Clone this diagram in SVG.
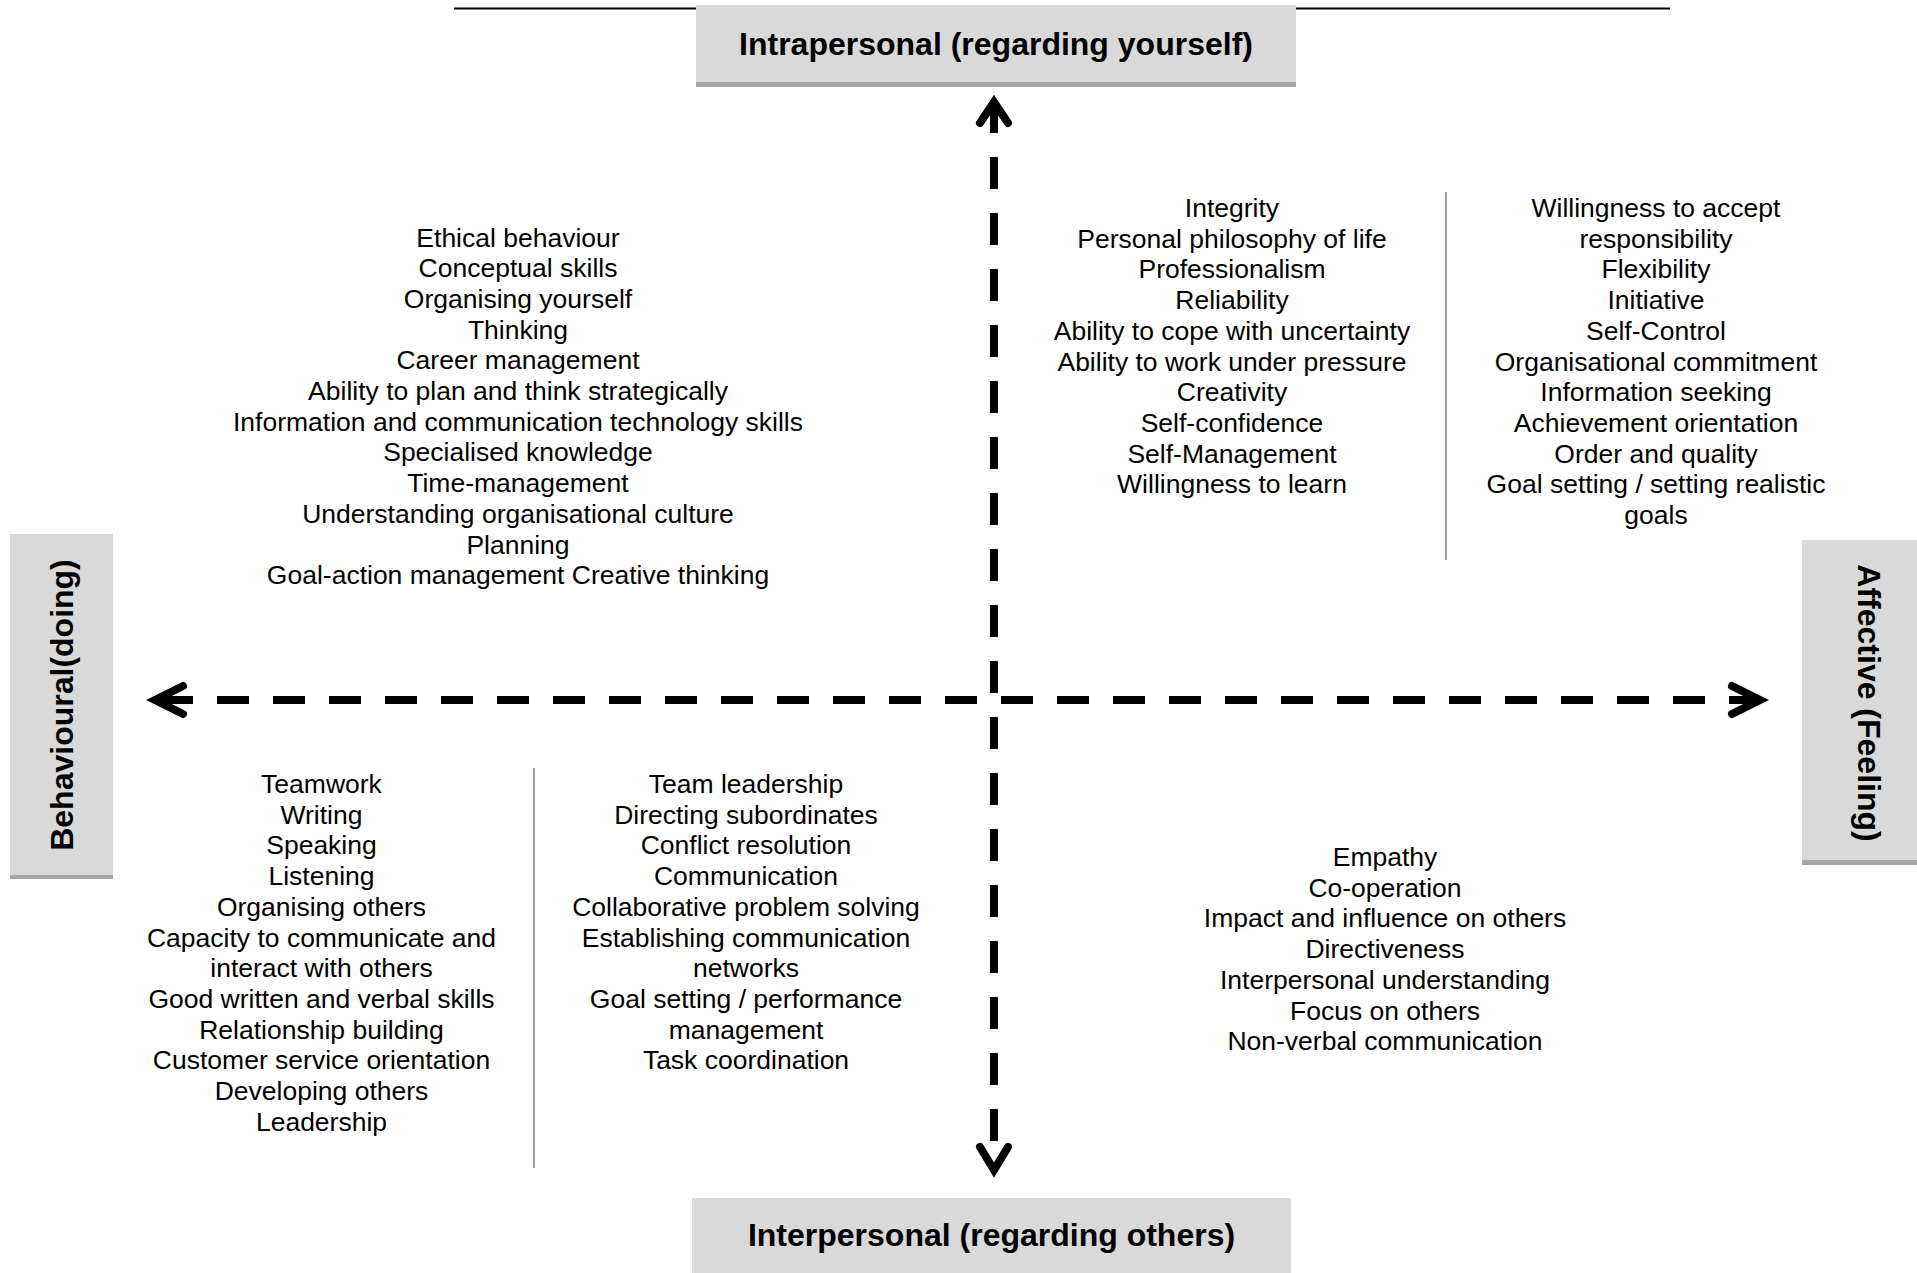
<svg xmlns="http://www.w3.org/2000/svg" width="1917" height="1273" viewBox="0 0 1917 1273">
<style>
.box{fill:#d9d9d9}
.shadow{fill:#a6a6a6}
.hdr{font-family:"Liberation Sans",Arial,sans-serif;font-size:32px;font-weight:bold;fill:#000;text-anchor:middle}
.item{font-family:"Liberation Sans",Arial,sans-serif;font-size:26.5px;fill:#000;text-anchor:middle}
.axis{stroke:#000;stroke-width:8;fill:none;stroke-dasharray:32 24}
.head{stroke:#000;stroke-width:8;fill:none;stroke-linecap:round;stroke-linejoin:miter}
.sep{stroke:#808080;stroke-width:1.5}
</style>
<rect width="1917" height="1273" fill="#fff"/>
<line x1="454" y1="8.5" x2="1670" y2="8.5" stroke="#000" stroke-width="2"/>

<g id="node-intrapersonal">
<rect class="box" x="696" y="5" width="600" height="78"/>
<rect class="shadow" x="696" y="82" width="600" height="5"/>
<text class="hdr" x="996" y="55">Intrapersonal (regarding yourself)</text>
</g>
<g id="node-interpersonal">
<rect class="box" x="692" y="1198" width="599" height="75"/>
<text class="hdr" x="991.5" y="1246">Interpersonal (regarding others)</text>
</g>
<g id="node-behavioural">
<rect class="box" x="10" y="534" width="103" height="342"/>
<rect class="shadow" x="10" y="875" width="103" height="4"/>
<text class="hdr" transform="translate(73 705) rotate(-90)">Behavioural(doing)</text>
</g>
<g id="node-affective">
<rect class="box" x="1802" y="540" width="115" height="321"/>
<rect class="shadow" x="1802" y="860" width="115" height="5"/>
<text class="hdr" transform="translate(1858 703) rotate(90)">Affective (Feeling)</text>
</g>

<g id="connectors">
<line class="axis" x1="994" y1="101" x2="994" y2="1141"/>
<line class="axis" x1="161" y1="700" x2="1761" y2="700"/>
<path class="head" d="M980 123 L994 102 L1008 123"/>
<path class="head" d="M980 1147 L994 1170 L1008 1147"/>
<path class="head" d="M183 686 L155 700 L183 714"/>
<path class="head" d="M1732 686 L1760 700 L1732 714"/>
<line class="sep" x1="1446" y1="192" x2="1446" y2="560"/>
<line class="sep" x1="534" y1="768" x2="534" y2="1168"/>
</g>

<g id="node-intra-behavioural">
<text class="item" y="246.5"><tspan x="518">Ethical behaviour</tspan><tspan x="518" dy="30.7">Conceptual skills</tspan><tspan x="518" dy="30.7">Organising yourself</tspan><tspan x="518" dy="30.7">Thinking</tspan><tspan x="518" dy="30.7">Career management</tspan><tspan x="518" dy="30.7">Ability to plan and think strategically</tspan><tspan x="518" dy="30.7">Information and communication technology skills</tspan><tspan x="518" dy="30.7">Specialised knowledge</tspan><tspan x="518" dy="30.7">Time-management</tspan><tspan x="518" dy="30.7">Understanding organisational culture</tspan><tspan x="518" dy="30.7">Planning</tspan><tspan x="518" dy="30.7">Goal-action management Creative thinking</tspan></text>
</g>
<g id="node-intra-affective-1">
<text class="item" y="217"><tspan x="1232">Integrity</tspan><tspan x="1232" dy="30.7">Personal philosophy of life</tspan><tspan x="1232" dy="30.7">Professionalism</tspan><tspan x="1232" dy="30.7">Reliability</tspan><tspan x="1232" dy="30.7">Ability to cope with uncertainty</tspan><tspan x="1232" dy="30.7">Ability to work under pressure</tspan><tspan x="1232" dy="30.7">Creativity</tspan><tspan x="1232" dy="30.7">Self-confidence</tspan><tspan x="1232" dy="30.7">Self-Management</tspan><tspan x="1232" dy="30.7">Willingness to learn</tspan></text>
</g>
<g id="node-intra-affective-2">
<text class="item" y="217"><tspan x="1656">Willingness to accept</tspan><tspan x="1656" dy="30.7">responsibility</tspan><tspan x="1656" dy="30.7">Flexibility</tspan><tspan x="1656" dy="30.7">Initiative</tspan><tspan x="1656" dy="30.7">Self-Control</tspan><tspan x="1656" dy="30.7">Organisational commitment</tspan><tspan x="1656" dy="30.7">Information seeking</tspan><tspan x="1656" dy="30.7">Achievement orientation</tspan><tspan x="1656" dy="30.7">Order and quality</tspan><tspan x="1656" dy="30.7">Goal setting / setting realistic</tspan><tspan x="1656" dy="30.7">goals</tspan></text>
</g>
<g id="node-inter-behavioural-1">
<text class="item" y="793"><tspan x="321.5">Teamwork</tspan><tspan x="321.5" dy="30.7">Writing</tspan><tspan x="321.5" dy="30.7">Speaking</tspan><tspan x="321.5" dy="30.7">Listening</tspan><tspan x="321.5" dy="30.7">Organising others</tspan><tspan x="321.5" dy="30.7">Capacity to communicate and</tspan><tspan x="321.5" dy="30.7">interact with others</tspan><tspan x="321.5" dy="30.7">Good written and verbal skills</tspan><tspan x="321.5" dy="30.7">Relationship building</tspan><tspan x="321.5" dy="30.7">Customer service orientation</tspan><tspan x="321.5" dy="30.7">Developing others</tspan><tspan x="321.5" dy="30.7">Leadership</tspan></text>
</g>
<g id="node-inter-behavioural-2">
<text class="item" y="793"><tspan x="746">Team leadership</tspan><tspan x="746" dy="30.7">Directing subordinates</tspan><tspan x="746" dy="30.7">Conflict resolution</tspan><tspan x="746" dy="30.7">Communication</tspan><tspan x="746" dy="30.7">Collaborative problem solving</tspan><tspan x="746" dy="30.7">Establishing communication</tspan><tspan x="746" dy="30.7">networks</tspan><tspan x="746" dy="30.7">Goal setting / performance</tspan><tspan x="746" dy="30.7">management</tspan><tspan x="746" dy="30.7">Task coordination</tspan></text>
</g>
<g id="node-inter-affective">
<text class="item" y="866"><tspan x="1385">Empathy</tspan><tspan x="1385" dy="30.7">Co-operation</tspan><tspan x="1385" dy="30.7">Impact and influence on others</tspan><tspan x="1385" dy="30.7">Directiveness</tspan><tspan x="1385" dy="30.7">Interpersonal understanding</tspan><tspan x="1385" dy="30.7">Focus on others</tspan><tspan x="1385" dy="30.7">Non-verbal communication</tspan></text>
</g>
</svg>
